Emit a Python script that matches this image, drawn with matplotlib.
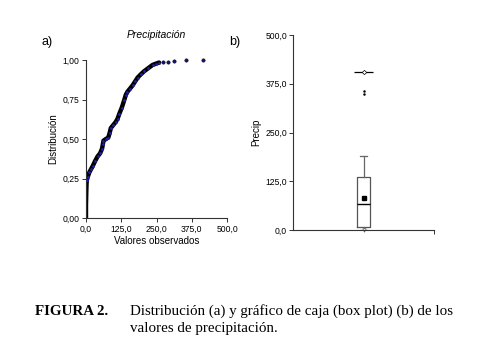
import matplotlib.pyplot as plt
import numpy as np

# values (panel a)
ecdf_x = [0, 0, 1, 2, 3, 6, 12, 18, 24, 32, 41, 50, 57, 60, 62, 70, 79, 84, 88, 97, 106,
          112, 118, 127, 136, 141, 147, 156, 165, 174, 183, 194, 206, 221, 236, 248, 259]
ecdf_p = [0.0, 0.08, 0.16, 0.22, 0.24, 0.26, 0.29, 0.31, 0.33, 0.36, 0.39, 0.41, 0.44, 0.47,
          0.49, 0.50, 0.51, 0.54, 0.57, 0.59, 0.61, 0.63, 0.66, 0.70, 0.75, 0.78, 0.80, 0.82,
          0.84, 0.865, 0.89, 0.91, 0.93, 0.95, 0.97, 0.978, 0.985]
tail_x = [272, 289, 312, 354, 413]
tail_p = [0.988, 0.99, 0.995, 0.998, 1.0]

# box plot summary (panel b)
box_stats = dict(med=67, q1=7, q3=137, whislo=0, whishi=190, mean=82)
outliers = [350, 356]
max_val = 405

x_ticks_a = [0, 125, 250, 375, 500]
y_ticks_a = [0, 0.25, 0.5, 0.75, 1.0]
y_ticks_b = [0, 125, 250, 375, 500]

def fmt(v, d):
    return f"{v:.{d}f}".replace(".", ",")

plt.rcParams['font.family'] = ['Liberation Sans', 'DejaVu Sans']
fig = plt.figure(figsize=(4.97, 3.54), dpi=100)

# panel a
ax = fig.add_axes([0.173, 0.384, 0.284, 0.446])
ax.plot(ecdf_x, ecdf_p, color='black', lw=3.2, solid_capstyle='round', zorder=2)
ax.plot(ecdf_x[4:], ecdf_p[4:], ls='none', marker='o', ms=1.0, color='#2020a0', zorder=3)
ax.plot(tail_x, tail_p, ls='none', marker='o', ms=2.4, color='#15157a',
        markeredgecolor='black', mew=0.4, clip_on=False, zorder=3)
ax.set_xlim(0, 500)
ax.set_ylim(0, 1)
ax.set_xticks(x_ticks_a)
ax.set_xticklabels([fmt(v, 1) for v in x_ticks_a])
ax.set_yticks(y_ticks_a)
ax.set_yticklabels([fmt(v, 2) for v in y_ticks_a])
ax.set_xlabel("Valores observados", fontsize=7, labelpad=2)
ax.set_ylabel("Distribución", fontsize=7, labelpad=3)
ax.set_title("Precipitación", fontsize=7.5, style='italic', pad=16)

# panel b
bx = fig.add_axes([0.590, 0.350, 0.283, 0.551])
bx.bxp([box_stats], positions=[1], widths=0.19, showmeans=True, showfliers=False,
       boxprops=dict(color='#555555', lw=0.9),
       whiskerprops=dict(color='#666666', lw=0.9),
       capprops=dict(color='#666666', lw=0.9),
       medianprops=dict(color='black', lw=1.0),
       meanprops=dict(marker='s', markerfacecolor='black', markeredgecolor='black', ms=2.2))
bx.plot([1] * len(outliers), outliers, ls='none', marker='o', ms=0.8, color='black')
bx.hlines(max_val, 0.86, 1.14, color='black', lw=0.9)
bx.plot([1], [max_val], ls='none', marker='D', ms=2.2, mfc='white', mec='black', mew=0.5)
bx.plot([1], [0], ls='none', marker='v', ms=2.5, mfc='white', mec='#555555', mew=0.5,
        clip_on=False)
bx.set_xlim(0, 2)
bx.set_ylim(0, 500)
bx.set_xticks([2])
bx.set_xticklabels([''])
bx.set_yticks(y_ticks_b)
bx.set_yticklabels([fmt(v, 1) for v in y_ticks_b])
bx.set_ylabel("Precip", fontsize=7, labelpad=3)

for a in (ax, bx):
    for s in ('top', 'right'):
        a.spines[s].set_visible(False)
    for s in ('left', 'bottom'):
        a.spines[s].set_color('#333333')
        a.spines[s].set_linewidth(0.8)
    a.tick_params(labelsize=6.2, length=3, width=0.7, color='#333333', pad=1.5)

fig.text(0.084, 0.872, "a)", fontsize=9)
fig.text(0.462, 0.872, "b)", fontsize=9)

cap = dict(fontsize=10.8, family='Liberation Serif')
fig.text(0.070, 0.110, "FIGURA 2.", weight='bold', **cap)
fig.text(0.262, 0.110, "Distribución (a) y gráfico de caja (box plot) (b) de los", **cap)
fig.text(0.262, 0.062, "valores de precipitación.", **cap)

fig.savefig("out.png", dpi=100)
